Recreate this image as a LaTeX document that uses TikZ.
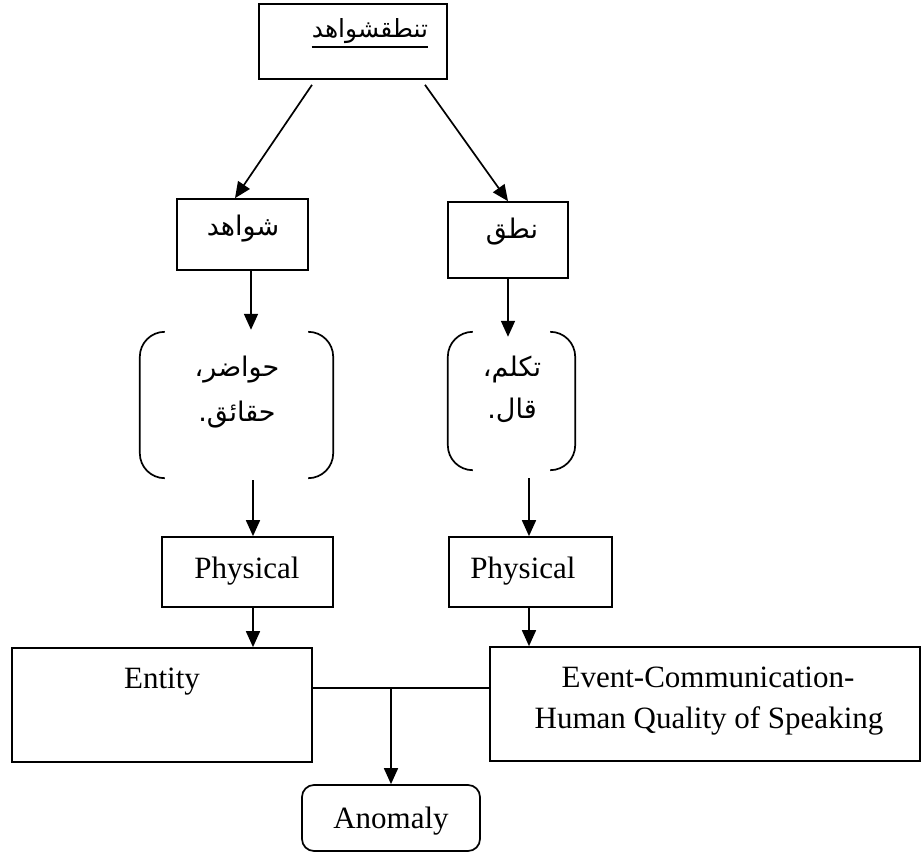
\documentclass[tikz,border=0pt]{standalone}
\usepackage{fontspec}
\setmainfont{Liberation Serif}
\newfontfamily\arabicfont[Script=Arabic]{DejaVu Sans}
\TeXXeTstate=1
\usetikzlibrary{arrows.meta}

% right-to-left Arabic run
\newcommand\artext[1]{\beginR #1\endR}

\begin{document}
\begin{tikzpicture}[x=1pt,y=-1pt,
  box/.style={draw, line width=1.7pt, inner sep=0pt},
  ghost/.style={inner sep=0pt},
  lbl/.style={inner sep=0pt, font=\fontsize{31}{41}\selectfont},
  atxt/.style={inner sep=0pt, font=\arabicfont\fontsize{27}{45}\selectfont},
  arr/.style={line width=1.7pt, -{Triangle[length=16pt,width=14pt]}},
  ln/.style={line width=1.7pt}]
\useasboundingbox (0,0) rectangle (922,857);

% top box
\node[box, minimum width=188, minimum height=75] (top) at (353,41.5) {};
\node[atxt, font=\arabicfont\fontsize{25}{40}\selectfont] (topT) at (370,31) {\artext{تنطقشواهد}};
\draw[line width=1.6pt] (topT.west |- 0,47) -- (topT.east |- 0,47);

% second row
\node[box, minimum width=131, minimum height=71] (shw) at (242.5,234.5) {};
\node[atxt] (shwT) at (243,229) {\artext{شواهد}};
\node[box, minimum width=120, minimum height=76] (natq) at (508,240) {};
\node[atxt] (natqT) at (512,232) {\artext{نطق}};

% bracketed groups
\node[ghost, minimum width=193, minimum height=146] (lbr) at (236.5,405) {};
\node[ghost, minimum width=127, minimum height=138] (rbr) at (511.5,401) {};
\foreach \b in {lbr,rbr}{
  \draw[ln, rounded corners=25pt] ([xshift=25pt]\b.north west) -- (\b.north west)
        -- (\b.south west) -- ([xshift=25pt]\b.south west);
  \draw[ln, rounded corners=25pt] ([xshift=-25pt]\b.north east) -- (\b.north east)
        -- (\b.south east) -- ([xshift=-25pt]\b.south east);
}
\node[atxt, align=center] (lbrT) at (237,392) {\artext{حواضر،}\\\artext{حقائق.}};
\node[atxt, align=center, font=\arabicfont\fontsize{27}{42}\selectfont] (rbrT) at (512,389) {\artext{تكلم،}\\\artext{قال.}};

% Physical boxes
\node[box, minimum width=171, minimum height=70] (physL) at (247.5,572) {};
\node[lbl, anchor=base] (physLT) at (247,578) {Physical};
\node[box, minimum width=163, minimum height=70] (physR) at (530.5,572) {};
\node[lbl, anchor=base] (physRT) at (523,578) {Physical};

% bottom row
\node[box, minimum width=300, minimum height=114] (entity) at (162,705) {};
\node[lbl, anchor=base] (entityT) at (162,688) {Entity};
\node[box, minimum width=430, minimum height=114] (event) at (705,704) {};
\node[lbl, anchor=base] (eventT1) at (708,687) {Event-Communication-};
\node[lbl, anchor=base] (eventT2) at (709,728) {Human Quality of Speaking};
\node[box, rounded corners=12pt, minimum width=178, minimum height=66] (anom) at (391,818) {};
\node[lbl, anchor=base] (anomT) at (391,828) {Anomaly};

% connectors
\draw[arr] ([xshift=-41pt,yshift=-5pt]top.south) -- ([xshift=-7.5pt]shw.north);
\draw[arr] ([xshift=72pt,yshift=-5pt]top.south) -- (natq.north);
\draw[arr] ([xshift=8.5pt]shw.south) -- ([xshift=8.5pt,yshift=2pt]shw.south |- lbr.north);
\draw[arr] (natq.south) -- ([yshift=-5pt]natq.south |- rbr.north);
\draw[arr] ([xshift=5.5pt,yshift=-2pt]physL.north |- lbr.south) -- ([xshift=5.5pt]physL.north);
\draw[arr] ([xshift=-1.5pt,yshift=-8pt]physR.north |- rbr.south) -- ([xshift=-1.5pt]physR.north);
\draw[arr] ([xshift=5.5pt]physL.south) -- ([xshift=5.5pt]physL.south |- entity.north);
\draw[arr] ([xshift=-1.5pt]physR.south) -- ([xshift=-1.5pt]physR.south |- event.north);

% junction into Anomaly
\coordinate (jm) at (391,688);
\draw[ln] (entity.east |- jm) -- (event.west |- jm);
\draw[arr] (jm) -- (anom.north);
\end{tikzpicture}
\end{document}
